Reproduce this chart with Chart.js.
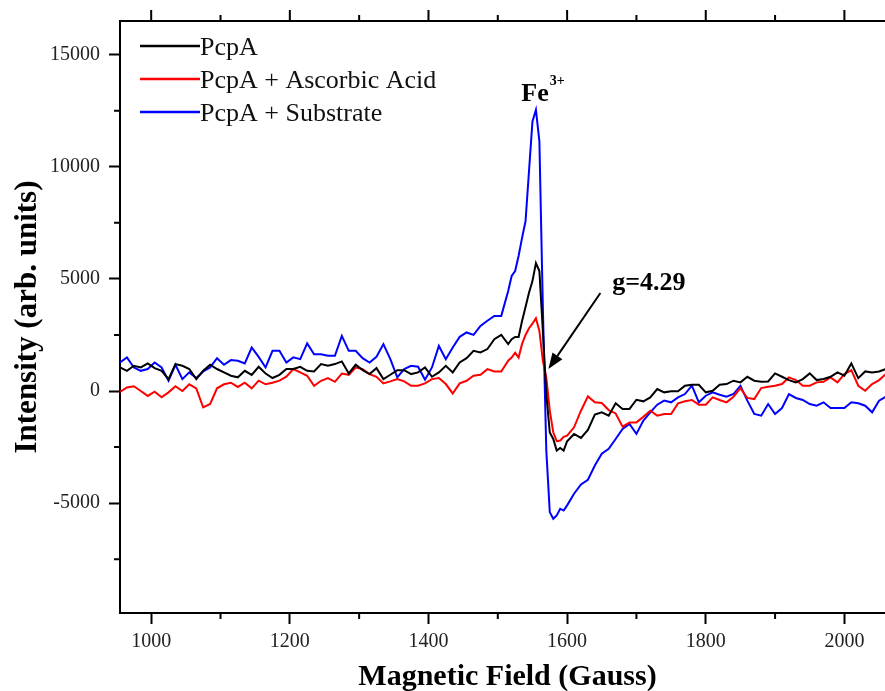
<!DOCTYPE html>
<html>
<head>
<meta charset="utf-8">
<title>EPR spectra - PcpA</title>
<script src="https://cdn.jsdelivr.net/npm/chart.js@4.4.0/dist/chart.umd.min.js"></script>
<style>
  html, body { margin: 0; padding: 0; background: #fff; overflow: hidden; }
  #wrap { width: 885px; height: 691px; overflow: hidden; }
</style>
</head>
<body>
<div id="wrap"><canvas id="eprChart" width="900" height="691"></canvas></div>
<script>
// magnetic field sampling (Gauss)
const fieldGauss = [
  955, 965, 975, 985, 995, 1005, 1015, 1025, 1035, 1045,
  1055, 1065, 1075, 1085, 1095, 1105, 1115, 1125, 1135, 1145,
  1155, 1165, 1175, 1185, 1195, 1205, 1215, 1225, 1235, 1245,
  1255, 1265, 1275, 1285, 1295, 1305, 1315, 1325, 1335, 1345,
  1355, 1365, 1375, 1385, 1395, 1405, 1415, 1425, 1435, 1445,
  1455, 1465, 1475, 1485, 1495, 1505, 1515,
  1520, 1525, 1530, 1535, 1540, 1545, 1550, 1555, 1560, 1565, 1570, 1575, 1580, 1585, 1590, 1595, 1600,
  1610, 1620, 1630, 1640, 1650, 1660, 1670, 1680, 1690, 1700,
  1710, 1720, 1730, 1740, 1750, 1760, 1770, 1780, 1790, 1800,
  1810, 1820, 1830, 1840, 1850, 1860, 1870, 1880, 1890, 1900,
  1910, 1920, 1930, 1940, 1950, 1960, 1970, 1980, 1990, 2000,
  2010, 2020, 2030, 2040, 2050, 2060
];

const pcpa = [
  1050, 900, 1125, 1050, 1230, 1020, 900, 530, 1200, 1125,
  980, 530, 900, 1170, 980, 830, 680, 610, 900, 720,
  1080, 780, 580, 720, 980, 980, 1080, 900, 870, 1200,
  1125, 1200, 1320, 785, 1170, 930, 755, 1020, 530, 725,
  930, 930, 755, 830, 1050, 635, 830, 1125, 830, 1270,
  1465, 1790, 1720, 1870, 2310, 2500, 2090,
  2310, 2410, 2410, 3120, 3750, 4385, 4900, 5700, 5350, 2680, -140, -1850, -2140, -2660, -2540, -2660, -2240,
  -1915, -2090, -1740, -1055, -950, -1100, -550, -800, -800, -390,
  -460, -285, 87, -60, -15, -15, 235, 280, 280, -60,
  13, 280, 310, 460, 385, 635, 458, 413, 428, 785,
  635, 487, 385, 533, 785, 487, 533, 635, 828, 680,
  1230, 575, 873, 828, 873, 980
];

const pcpaAscorbic = [
  -40, 160, 210, 0, -220, -30, -280, -60, 210, 0,
  300, 120, -730, -580, 120, 300, 370, 180, 370, 120,
  460, 300, 370, 460, 640, 980, 830, 680, 230, 455,
  575, 410, 780, 720, 1050, 975, 755, 635, 340, 430,
  530, 430, 235, 235, 340, 530, 575, 310, -110, 340,
  455, 680, 720, 975, 870, 870, 1350,
  1490, 1710, 1490, 2100, 2500, 2800, 3000, 3250, 2680, 1340, 600, -880, -1840, -2240, -2210, -2040, -1990,
  -1620, -880, -240, -505, -535, -850, -1000, -1590, -1400, -1400,
  -1150, -880, -1100, -1025, -1025, -550, -460, -400, -610, -610,
  -285, -400, -505, -255, 130, -310, -360, 130, 190, 235,
  310, 606, 487, 235, 235, 385, 413, 606, 385, 754,
  930, 235, 13, 310, 487, 754
];

const pcpaSubstrate = [
  1270, 1496, 1050, 900, 980, 1270, 1050, 458, 1170, 530,
  830, 580, 870, 1050, 1460, 1170, 1380, 1350, 1230, 1940,
  1520, 1050, 1790, 1790, 1270, 1500, 1420, 2120, 1640, 1640,
  1570, 1570, 2460, 1790, 1790, 1465, 1270, 1525, 2090, 1420,
  606, 980, 1125, 1080, 500, 1050, 2010, 1420, 1940, 2415,
  2610, 2500, 2900, 3130, 3350, 3350, 4460,
  5130, 5350, 6020, 6830, 7570, 9800, 12020, 12540, 11130, 3720, -2660, -5400, -5700, -5550, -5250, -5330, -5100,
  -4580, -4170, -3960, -3320, -2800, -2580, -2140, -1690, -1470, -1915,
  -1320, -950, -610, -430, -505, -285, -135, 235, -505, -210,
  -60, -165, -250, -135, 235, -430, -1025, -1100, -580, -1025,
  -760, -135, -310, -400, -580, -655, -505, -760, -760, -760,
  -505, -550, -655, -950, -430, -250
];

const seriesNames = ["PcpA", "PcpA + Ascorbic Acid", "PcpA + Substrate"];
const seriesColors = ["#000000", "#ff0000", "#0000ff"];

const xTickValues = [1000, 1200, 1400, 1600, 1800, 2000];
const xMinorValues = [1100, 1300, 1500, 1700, 1900];
const yTickValues = [-5000, 0, 5000, 10000, 15000];
const yMinorValues = [-7500, -2500, 2500, 7500, 12500];

// annotation anchors in data units (field, intensity)
const feLabelAt = [1534, 12950];
const gLabelAt = [1665, 4490];
const arrowFrom = [1648, 4370];
const arrowTo = [1573, 980];

const serif = "'Liberation Serif', 'Times New Roman', serif";

function toPoints(values) {
  return values.map((v, i) => ({ x: fieldGauss[i], y: v }));
}

const originAxes = {
  id: "originAxes",
  afterDraw(chart) {
    const { ctx, chartArea: a } = chart;
    const xs = chart.scales.x, ys = chart.scales.y;
    ctx.save();
    ctx.strokeStyle = "#000";
    ctx.lineWidth = 2;

    // top frame + right frame
    ctx.beginPath();
    ctx.moveTo(a.left - 1, a.top);
    ctx.lineTo(a.right, a.top);
    ctx.lineTo(a.right, a.bottom);
    ctx.stroke();

    ctx.beginPath();
    xTickValues.forEach(v => {
      const px = xs.getPixelForValue(v);
      ctx.moveTo(px, a.top);
      ctx.lineTo(px, a.top - 11);
    });
    xMinorValues.forEach(v => {
      const px = xs.getPixelForValue(v);
      ctx.moveTo(px, a.top);
      ctx.lineTo(px, a.top - 6);
      ctx.moveTo(px, a.bottom);
      ctx.lineTo(px, a.bottom + 6);
    });
    yMinorValues.forEach(v => {
      const py = ys.getPixelForValue(v);
      ctx.moveTo(a.left, py);
      ctx.lineTo(a.left - 6, py);
    });
    ctx.stroke();

    // legend
    ctx.font = "26px " + serif;
    ctx.textBaseline = "alphabetic";
    ctx.textAlign = "left";
    chart.data.datasets.forEach((ds, i) => {
      const ly = a.top + 25 + i * 33;
      ctx.strokeStyle = ds.borderColor;
      ctx.lineWidth = 2.5;
      ctx.beginPath();
      ctx.moveTo(a.left + 20, ly);
      ctx.lineTo(a.left + 80, ly);
      ctx.stroke();
      ctx.fillStyle = "#111";
      ctx.fillText(ds.label, a.left + 80, ly + 9);
    });

    // Fe3+ label
    ctx.fillStyle = "#000";
    const fx = xs.getPixelForValue(feLabelAt[0]);
    const fy = ys.getPixelForValue(feLabelAt[1]);
    ctx.font = "bold 26px " + serif;
    ctx.fillText("Fe", fx, fy);
    const feW = ctx.measureText("Fe").width;
    ctx.font = "bold 14px " + serif;
    ctx.fillText("3+", fx + feW + 1, fy - 16);

    // g = 4.29 label and arrow
    ctx.font = "bold 26px " + serif;
    ctx.fillText("g=4.29", xs.getPixelForValue(gLabelAt[0]), ys.getPixelForValue(gLabelAt[1]));

    const x0 = xs.getPixelForValue(arrowFrom[0]), y0 = ys.getPixelForValue(arrowFrom[1]);
    const x1 = xs.getPixelForValue(arrowTo[0]), y1 = ys.getPixelForValue(arrowTo[1]);
    const ang = Math.atan2(y1 - y0, x1 - x0);
    const headLen = 16, headHalf = 6;
    const bx = x1 - headLen * Math.cos(ang), by = y1 - headLen * Math.sin(ang);
    ctx.strokeStyle = "#000";
    ctx.lineWidth = 2;
    ctx.beginPath();
    ctx.moveTo(x0, y0);
    ctx.lineTo(bx, by);
    ctx.stroke();
    ctx.beginPath();
    ctx.moveTo(x1, y1);
    ctx.lineTo(bx + headHalf * Math.sin(ang), by - headHalf * Math.cos(ang));
    ctx.lineTo(bx - headHalf * Math.sin(ang), by + headHalf * Math.cos(ang));
    ctx.closePath();
    ctx.fillStyle = "#000";
    ctx.fill();

    ctx.restore();
  }
};

const ctx = document.getElementById("eprChart").getContext("2d");
new Chart(ctx, {
  type: "line",
  data: {
    datasets: [pcpa, pcpaAscorbic, pcpaSubstrate].map((vals, i) => ({
      label: seriesNames[i],
      data: toPoints(vals),
      borderColor: seriesColors[i],
      backgroundColor: seriesColors[i],
      borderWidth: 2,
      pointRadius: 0,
      tension: 0
    }))
  },
  options: {
    responsive: false,
    animation: false,
    layout: { padding: { top: 19, right: 5, left: 0, bottom: 0 } },
    plugins: {
      legend: { display: false },
      tooltip: { enabled: false }
    },
    scales: {
      x: {
        type: "linear",
        min: 955,
        max: 2073,
        afterFit: s => { s.height = 78; },
        afterBuildTicks: s => { s.ticks = xTickValues.map(v => ({ value: v })); },
        ticks: {
          padding: 6,
          color: "#222",
          font: { family: serif, size: 20 },
          maxRotation: 0,
          autoSkip: false,
          callback: v => String(v)
        },
        grid: { drawOnChartArea: false, drawTicks: true, tickLength: 11, tickWidth: 2, tickColor: "#000" },
        border: { display: true, color: "#000", width: 2 },
        title: {
          display: true,
          text: "Magnetic Field (Gauss)",
          color: "#000",
          font: { family: serif, size: 30, weight: "bold", lineHeight: 1 },
          padding: { top: 0, bottom: -1 }
        }
      },
      y: {
        min: -9900,
        max: 16500,
        afterFit: s => { s.width = 120; },
        afterBuildTicks: s => { s.ticks = yTickValues.map(v => ({ value: v })); },
        ticks: {
          padding: 9,
          color: "#222",
          font: { family: serif, size: 20 },
          callback: v => String(v)
        },
        grid: { drawOnChartArea: false, drawTicks: true, tickLength: 11, tickWidth: 2, tickColor: "#000" },
        border: { display: true, color: "#000", width: 2 },
        title: {
          display: true,
          text: "Intensity (arb. units)",
          color: "#000",
          font: { family: serif, size: 31, weight: "bold", lineHeight: 1.2 },
          padding: { top: 9, bottom: 0 }
        }
      }
    }
  },
  plugins: [originAxes]
});
</script>
</body>
</html>
